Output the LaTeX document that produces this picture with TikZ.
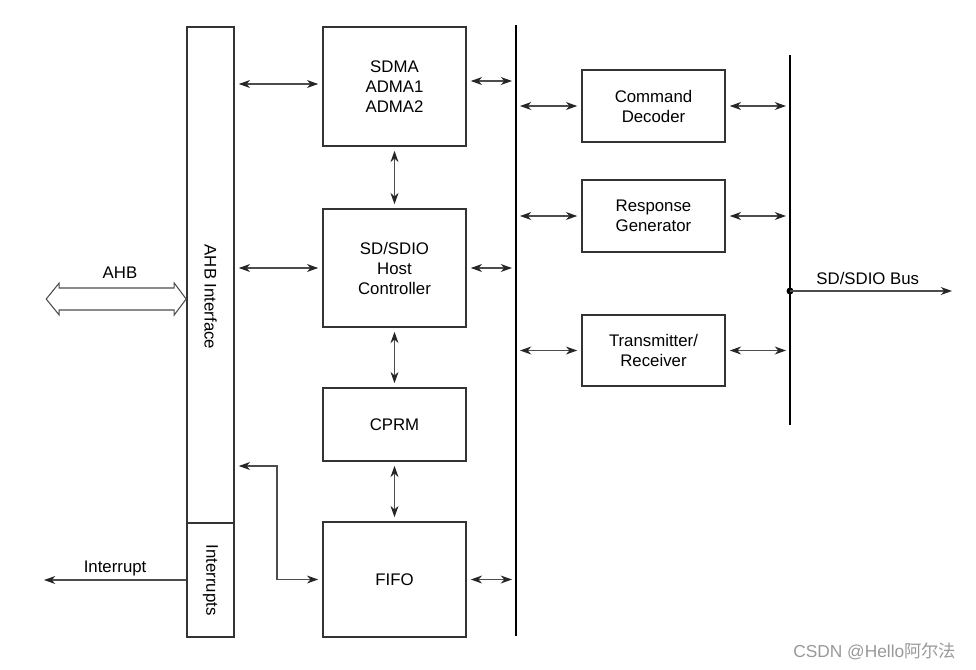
\documentclass[tikz,border=0pt]{standalone}
\usepackage{fontspec}
\setmainfont{Liberation Sans}
\newfontfamily\cjk{Noto Sans CJK SC}
\usetikzlibrary{arrows.meta, positioning, calc}
\tikzset{
    blk/.style={draw=black!80, line width=1.2pt, align=center, inner sep=0pt, font=\fontsize{12.6}{15}\selectfont},
    unit/.style={blk, minimum width=107.25pt},
    link/.style={{Stealth[length=8.5pt,width=6pt,black!85]}-{Stealth[length=8.5pt,width=6pt,black!85]}, draw=black!70, line width=0.9pt, shorten <=3pt, shorten >=3pt},
    oneway/.style={-{Stealth[length=8.5pt,width=6pt,black!85]}, draw=black!70, line width=0.9pt},
    bus/.style={line width=2.2pt, black},
    lbl/.style={font=\fontsize{12.6}{15}\selectfont}
  }
\begin{document}
\begin{tikzpicture}[x=0.75pt, y=-0.75pt]
            \useasboundingbox (0,0) rectangle (976,669);
            \node (ahb) [blk, minimum width=35.25pt, minimum height=372pt] at (210.5,275) {};
            \node [lbl, rotate=-90] at (210.5,297) {AHB Interface};
            \node (intr) [blk, minimum width=35.25pt, minimum height=85.5pt] at (210.5,580) {\rotatebox{-90}{Interrupts}};
            \node (sdma) [unit, minimum height=89.25pt] at (394.5,86.5) {SDMA\\ADMA1\\ADMA2};
            \node (host) [unit, minimum height=88.5pt] at (394.5,268) {SD/SDIO\\Host\\Controller};
            \node (cprm) [unit, minimum height=54.75pt] at (394.5,424.5) {CPRM};
            \node (fifo) [unit, minimum height=86.25pt] at (394.5,579.5) {FIFO};
            \node (cmd) [unit, minimum height=54pt] at (653.5,106) {Command\\Decoder};
            \node (resp) [unit, minimum height=54pt] at (653.5,216) {Response\\Generator};
            \node (trx) [unit, minimum height=53.25pt] at (653.5,350.5) {Transmitter/\\Receiver};
            \coordinate (busTop) at (516,25);
            \coordinate (busBot) at (516,636);
            \coordinate (sdTop) at (790,55);
            \coordinate (sdBot) at (790,425);
            \coordinate (sdTap) at (790,291);
            \coordinate (sdEnd) at (952,291);
            \coordinate (fifoTap) at (277,466);
            \coordinate (ahbTip) at (ahb.west |- 0,299);
            \coordinate (irqEnd) at (44,580);
            \draw[bus] (busTop) -- (busBot);
            \draw[bus] (sdTop) -- (sdBot);
            \fill (sdTap) circle (3.5);
            \draw[oneway] (sdTap) -- (sdEnd) node [lbl, pos=0.48, anchor=south, yshift=1pt] {SD/SDIO Bus};
            \draw[link] (ahb.east |- 0,84) -- (sdma.west |- 0,84);
            \draw[link] (ahb.east |- host.west) -- (host.west);
            \draw[link] (fifoTap -| ahb.east) -- (fifoTap) -- (fifoTap |- fifo.west) -- (fifo.west);
            \draw[link] (sdma.east |- 0,81) -- (busTop |- 0,81);
            \draw[link] (host.east) -- (host.east -| busTop);
            \draw[link] (fifo.east) -- (fifo.east -| busTop);
            \draw[link] (sdma.south) -- (host.north);
            \draw[link] (host.south) -- (cprm.north);
            \draw[link] (cprm.south) -- (fifo.north);
            \draw[link] (cmd.west -| busTop) -- (cmd.west);
            \draw[link] (resp.west -| busTop) -- (resp.west);
            \draw[link] (trx.west -| busTop) -- (trx.west);
            \draw[link] (cmd.east) -- (cmd.east -| sdTop);
            \draw[link] (resp.east) -- (resp.east -| sdTop);
            \draw[link] (trx.east) -- (trx.east -| sdTop);
            \draw[oneway] (intr.west) -- (irqEnd) node [lbl, midway, anchor=south, yshift=-1pt] {Interrupt};
            \draw[draw=black!70, line width=0.8pt, fill=white] (ahbTip) -- ++(-12,-16) -- ++(0,5) -- ++(-115,0) -- ++(0,-5) -- ++(-13,16) -- ++(13,16) -- ++(0,-5) -- ++(115,0) -- ++(0,5) -- cycle;
            \node [lbl] at (120,273) {AHB};
            \node [text=black!40, font=\fontsize{13}{15}\selectfont, anchor=east] at (961,651) {CSDN @Hello{\cjk 阿尔法}};
        \end{tikzpicture}
\end{document}
